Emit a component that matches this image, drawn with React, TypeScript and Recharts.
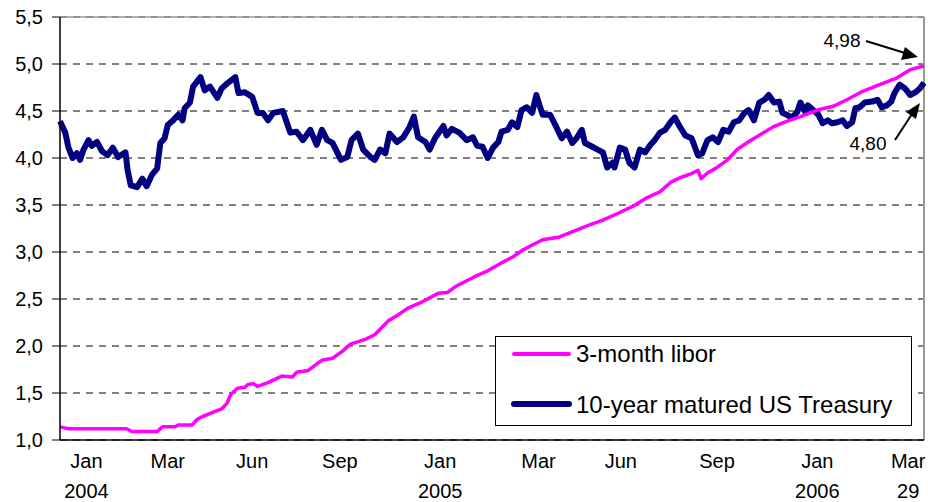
import React from "react";
import { LineChart, Line, XAxis, YAxis, CartesianGrid, ReferenceLine } from "recharts";

// [day since 1 Jan 2004, rate %]
const libor: [number, number][] = [
  [0, 1.14], [8, 1.12], [63, 1.12], [68, 1.09], [92, 1.09], [97, 1.14], [109, 1.14], [112, 1.16],
  [125, 1.16], [130, 1.22], [135, 1.25], [144, 1.29], [153, 1.33], [158, 1.39], [162, 1.49],
  [168, 1.55], [175, 1.56], [178, 1.59], [183, 1.6], [187, 1.57], [197, 1.61], [210, 1.68],
  [220, 1.67], [224, 1.72], [235, 1.74], [248, 1.85], [258, 1.87], [267, 1.94], [275, 2.02],
  [289, 2.07], [298, 2.12], [311, 2.27], [320, 2.33], [329, 2.4], [343, 2.47], [358, 2.56],
  [367, 2.57], [374, 2.63], [393, 2.74], [405, 2.8], [419, 2.89], [429, 2.95], [438, 3.02],
  [448, 3.08], [457, 3.13], [473, 3.16], [486, 3.22], [502, 3.29], [514, 3.34], [530, 3.42],
  [543, 3.49], [556, 3.58], [568, 3.64], [578, 3.74], [587, 3.79], [599, 3.84], [604, 3.87],
  [607, 3.78], [613, 3.84], [622, 3.9], [632, 3.98], [641, 4.09], [653, 4.18], [666, 4.27],
  [675, 4.33], [688, 4.39], [701, 4.44], [717, 4.51], [732, 4.55], [745, 4.62], [760, 4.71],
  [776, 4.78], [792, 4.85], [805, 4.94], [818, 4.98],
];

const treasury: [number, number][] = [
  [0, 4.39], [5, 4.27], [8, 4.11], [12, 4.0], [16, 4.05], [19, 3.98], [22, 4.08], [27, 4.19],
  [30, 4.13], [35, 4.17], [40, 4.07], [45, 4.03], [50, 4.11], [55, 4.01], [62, 4.06], [64, 3.87],
  [67, 3.71], [73, 3.69], [78, 3.78], [82, 3.7], [87, 3.82], [92, 3.89], [95, 4.16], [99, 4.21],
  [102, 4.35], [107, 4.4], [112, 4.46], [116, 4.4], [118, 4.53], [123, 4.59], [126, 4.76],
  [133, 4.86], [137, 4.72], [142, 4.76], [149, 4.64], [153, 4.74], [159, 4.8], [166, 4.86],
  [169, 4.69], [175, 4.7], [182, 4.65], [187, 4.48], [192, 4.48], [197, 4.4], [202, 4.48],
  [211, 4.5], [218, 4.27], [224, 4.28], [230, 4.19], [237, 4.3], [243, 4.14], [248, 4.3],
  [253, 4.19], [258, 4.16], [266, 3.98], [272, 4.01], [276, 4.19], [282, 4.26], [287, 4.09],
  [294, 4.01], [298, 3.98], [303, 4.09], [308, 4.05], [312, 4.26], [319, 4.17], [325, 4.22],
  [331, 4.33], [335, 4.44], [339, 4.22], [346, 4.17], [350, 4.09], [355, 4.21], [363, 4.34],
  [366, 4.24], [371, 4.31], [378, 4.27], [385, 4.19], [391, 4.22], [395, 4.13], [400, 4.12],
  [405, 4.0], [410, 4.11], [415, 4.17], [418, 4.28], [424, 4.3], [428, 4.38], [433, 4.33],
  [437, 4.51], [442, 4.54], [447, 4.48], [451, 4.67], [454, 4.56], [457, 4.46], [464, 4.46],
  [469, 4.35], [475, 4.21], [480, 4.28], [485, 4.16], [489, 4.21], [494, 4.3], [497, 4.16],
  [504, 4.12], [509, 4.09], [514, 4.06], [518, 3.9], [523, 3.95], [525, 3.9], [530, 4.11],
  [535, 4.09], [539, 3.95], [544, 3.9], [549, 4.09], [554, 4.06], [559, 4.14], [563, 4.19],
  [568, 4.27], [573, 4.3], [578, 4.38], [582, 4.43], [587, 4.33], [592, 4.24], [598, 4.21],
  [604, 4.03], [608, 4.05], [613, 4.19], [618, 4.22], [623, 4.17], [628, 4.3], [633, 4.28],
  [638, 4.38], [643, 4.4], [648, 4.48], [652, 4.51], [657, 4.4], [662, 4.59], [667, 4.62],
  [671, 4.67], [676, 4.59], [681, 4.6], [684, 4.48], [688, 4.46], [693, 4.43], [698, 4.49],
  [701, 4.59], [706, 4.48], [708, 4.56], [713, 4.51], [718, 4.46], [722, 4.37], [727, 4.4],
  [731, 4.37], [736, 4.38], [741, 4.4], [745, 4.34], [750, 4.38], [753, 4.53], [757, 4.54],
  [762, 4.59], [769, 4.6], [774, 4.62], [778, 4.54], [783, 4.56], [787, 4.6], [790, 4.69],
  [795, 4.78], [800, 4.74], [805, 4.67], [810, 4.7], [814, 4.74], [818, 4.8],
];

const tickDays = [25, 102, 182, 265, 360, 453, 531, 622, 717, 803];
const tickMonths = ["Jan", "Mar", "Jun", "Sep", "Jan", "Mar", "Jun", "Sep", "Jan", "Mar"];
const tickYears = ["2004", "", "", "", "2005", "", "", "", "2006", "29"];
const yTicks = [1, 1.5, 2, 2.5, 3, 3.5, 4, 4.5, 5, 5.5];
const seriesNames = ["3-month libor", "10-year matured US Treasury"];

const FONT = "'Liberation Sans', Arial, sans-serif";
const PINK = "#ff00ff";
const NAVY = "#000080";

const liborData = libor.map(([d, v]) => ({ d, v }));
const treasuryData = treasury.map(([d, v]) => ({ d, v }));
const comma = (v: number, n: number) => v.toFixed(n).replace(".", ",");

/* eslint-disable @typescript-eslint/no-explicit-any */
const XTick = ({ x, y, payload }: any) => {
  const i = tickDays.indexOf(payload.value);
  return (
    <g fontFamily={FONT} fontSize={20} fill="#000">
      <text x={x} y={y + 28} textAnchor="middle">{tickMonths[i]}</text>
      <text x={x} y={y + 58} textAnchor="middle">{tickYears[i]}</text>
    </g>
  );
};
/* eslint-enable @typescript-eslint/no-explicit-any */

export default function App() {
  const lastLibor = libor[libor.length - 1][1];
  const lastTreasury = treasury[treasury.length - 1][1];
  return (
    <div style={{ position: "absolute", left: 0, top: 0, width: 928, height: 502, background: "#fff" }}>
      <LineChart width={928} height={502} margin={{ top: 17, right: 4, bottom: 0, left: 0 }}>
        <CartesianGrid
          vertical={false}
          horizontal={{ shapeRendering: "crispEdges" }}
          stroke="#000"
          strokeDasharray="7 6"
        />
        <XAxis
          type="number"
          dataKey="d"
          domain={[0, 818]}
          ticks={tickDays}
          interval={0}
          height={62}
          tickSize={0}
          tickMargin={0}
          tickLine={false}
          tick={<XTick />}
          axisLine={{ stroke: "#000", strokeWidth: 1.5 }}
        />
        <YAxis
          type="number"
          domain={[1, 5.5]}
          ticks={yTicks}
          width={60}
          tickSize={8}
          tickMargin={9}
          tickFormatter={(v: number) => comma(v, 1)}
          tick={{ fill: "#000", fontSize: 20, fontFamily: FONT }}
          tickLine={{ stroke: "#000" }}
          axisLine={{ stroke: "#000", strokeWidth: 1.5 }}
        />
        <ReferenceLine y={5.5} stroke="#999" strokeWidth={1.5} />
        <ReferenceLine x={818} stroke="#999" strokeWidth={2} />
        <Line
          data={treasuryData}
          dataKey="v"
          type="linear"
          stroke={NAVY}
          strokeWidth={6}
          strokeLinejoin="round"
          dot={false}
          isAnimationActive={false}
        />
        <Line
          data={liborData}
          dataKey="v"
          type="linear"
          stroke={PINK}
          strokeWidth={3.5}
          strokeLinejoin="round"
          dot={false}
          isAnimationActive={false}
        />
      </LineChart>

      <svg width={928} height={502} style={{ position: "absolute", left: 0, top: 0, pointerEvents: "none" }}>
        {/* legend */}
        <rect x={495.5} y={336.5} width={416} height={89} fill="#fff" stroke="#000" strokeWidth={1} />
        <line x1={514} y1={354} x2={569} y2={354} stroke={PINK} strokeWidth={4} strokeLinecap="round" />
        <line x1={514} y1={404} x2={569} y2={404} stroke={NAVY} strokeWidth={6} strokeLinecap="round" />
        <text x={576} y={362} fontFamily={FONT} fontSize={24} fill="#000">{seriesNames[0]}</text>
        <text x={576} y={413} fontFamily={FONT} fontSize={24} fill="#000">{seriesNames[1]}</text>

        {/* end-value notes */}
        <text x={842} y={47} textAnchor="middle" fontFamily={FONT} fontSize={19} fill="#000">{comma(lastLibor, 2)}</text>
        <line x1={866} y1={41} x2={905} y2={53} stroke="#000" strokeWidth={2} />
        <polygon points="918,57 901,60 905,47" fill="#000" />
        <text x={868} y={150} textAnchor="middle" fontFamily={FONT} fontSize={19} fill="#000">{comma(lastTreasury, 2)}</text>
        <line x1={895} y1={140} x2={912} y2={114} stroke="#000" strokeWidth={2} />
        <polygon points="920,103 916,119 906,112" fill="#000" />
      </svg>
    </div>
  );
}
